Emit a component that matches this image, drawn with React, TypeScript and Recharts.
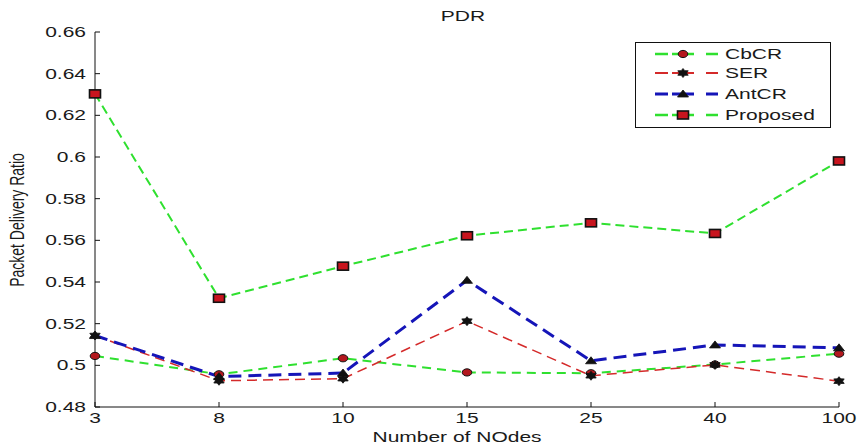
import React from 'react';
import { LineChart, Line, XAxis, YAxis, Legend } from 'recharts';

const categories = ['3', '8', '10', '15', '25', '40', '100'];
const cbcr = [0.5045, 0.4957, 0.5034, 0.4966, 0.4962, 0.5004, 0.5056];
const ser = [0.5143, 0.4926, 0.4936, 0.5212, 0.4950, 0.5002, 0.4924];
const antcr = [0.5143, 0.4946, 0.4963, 0.5408, 0.5022, 0.5098, 0.5084];
const proposed = [0.6303, 0.5322, 0.5476, 0.5622, 0.5684, 0.5633, 0.5981];
const yTicks = [0.48, 0.5, 0.52, 0.54, 0.56, 0.58, 0.6, 0.62, 0.64, 0.66];
const seriesNames = ['CbCR', 'SER', 'AntCR', 'Proposed'];
const title = 'PDR';
const xLabel = 'Number of NOdes';
const yLabel = 'Packet Delivery Ratio';

const data = categories.map((c, i) => ({
  cat: c,
  CbCR: cbcr[i],
  SER: ser[i],
  AntCR: antcr[i],
  Proposed: proposed[i],
}));

const FONT = '"Liberation Sans", Arial, sans-serif';
const SX = 1.5;
const W = 857;
const H = 446;
const M = { top: 32, right: 18, bottom: 9, left: 35 };
const YW = 60;
const XH = 30;
const PLOT_LEFT = M.left + YW;
const PLOT_RIGHT = W - M.right;
const PLOT_BOTTOM = H - M.bottom - XH;
const Y_TICK_MARGIN = 9;

const GREEN = '#2fe02f';
const RED = '#d42a2a';
const BLUE = '#1515b8';

type Kind = 'circle' | 'star' | 'tri' | 'square';

const seriesStyle: Record<string, { color: string; width: number; dash: string; kind: Kind }> = {
  CbCR: { color: GREEN, width: 2, dash: '9 6', kind: 'circle' },
  SER: { color: RED, width: 1.5, dash: '10 6', kind: 'star' },
  AntCR: { color: BLUE, width: 3, dash: '13 7', kind: 'tri' },
  Proposed: { color: GREEN, width: 2, dash: '9 5', kind: 'square' },
};

function starPath(cx: number, cy: number) {
  const pts: string[] = [];
  for (let k = 0; k < 12; k++) {
    const a = (Math.PI * k) / 6 - Math.PI / 2;
    const r = k % 2 === 0 ? 5 : 3;
    pts.push(`${(cx + r * Math.cos(a) * 1.2).toFixed(2)},${(cy + r * Math.sin(a) * 0.9).toFixed(2)}`);
  }
  return `M${pts.join('L')}Z`;
}

function Marker({ kind, cx, cy }: { kind: Kind; cx: number; cy: number }) {
  if (kind === 'circle') {
    return <ellipse cx={cx} cy={cy} rx={4.8} ry={3.6} fill="#b3181e" stroke="#111" strokeWidth={1} />;
  }
  if (kind === 'star') {
    return <path d={starPath(cx, cy)} fill="#111" stroke="#111" strokeWidth={0.8} />;
  }
  if (kind === 'tri') {
    return (
      <polygon
        points={`${cx - 5.5},${cy + 3} ${cx + 5.5},${cy + 3} ${cx},${cy - 4}`}
        fill="#111"
        stroke="#111"
        strokeWidth={0.8}
      />
    );
  }
  return <rect x={cx - 5.5} y={cy - 4} width={11} height={8} fill="#c8141e" stroke="#111" strokeWidth={1.6} />;
}

const makeDot = (kind: Kind) => (props: any) => {
  const { cx, cy, index } = props;
  if (cx == null || cy == null) return <g key={`d-${index}`} />;
  return (
    <g key={`d-${kind}-${index}`}>
      <Marker kind={kind} cx={cx} cy={cy} />
    </g>
  );
};

const StretchText = ({ x, y, anchor, children, size = 14 }: any) => (
  <text
    transform={`translate(${x},${y}) scale(${SX},1)`}
    textAnchor={anchor}
    fontFamily={FONT}
    fontSize={size}
    fill="#1a1a1a"
  >
    {children}
  </text>
);

const YTick = (props: any) => {
  const { x, y, payload } = props;
  const ax = x + Y_TICK_MARGIN;
  return (
    <g>
      <line x1={ax} x2={ax + 5} y1={y} y2={y} stroke="#111" strokeWidth={1} />
      <StretchText x={x} y={y + 5} anchor="end">
        {String(payload.value)}
      </StretchText>
    </g>
  );
};

const XTick = (props: any) => {
  const { x, y, payload } = props;
  return (
    <g>
      <line x1={x} x2={x} y1={PLOT_BOTTOM} y2={PLOT_BOTTOM - 5} stroke="#111" strokeWidth={1} />
      <StretchText x={x} y={y + 16} anchor="middle">
        {payload.value}
      </StretchText>
    </g>
  );
};

const LegendBox = () => {
  const rowY = [12, 31, 52, 73];
  return (
    <svg width={196} height={86} style={{ display: 'block' }}>
      <rect x={0.5} y={0.5} width={195} height={85} fill="#fff" stroke="#111" strokeWidth={1} />
      {seriesNames.map((n, i) => {
        const s = seriesStyle[n];
        const y = rowY[i];
        return (
          <g key={n}>
            <line
              x1={20}
              x2={83}
              y1={y}
              y2={y}
              stroke={s.color}
              strokeWidth={Math.min(s.width + 0.5, 3)}
              strokeDasharray="13 4 22 12 13"
            />
            <Marker kind={s.kind} cx={48} cy={y} />
            <StretchText x={90} y={y + 5} anchor="start">
              {n}
            </StretchText>
          </g>
        );
      })}
    </svg>
  );
};

export default function App() {
  return (
    <div style={{ position: 'absolute', left: 0, top: 0, width: W, height: H, background: '#fff' }}>
      <LineChart width={W} height={H} data={data} margin={M}>
        <XAxis
          dataKey="cat"
          type="category"
          height={XH}
          axisLine={{ stroke: '#111', strokeWidth: 1 }}
          tickLine={false}
          tickSize={0}
          tickMargin={0}
          tick={XTick}
          interval={0}
        />
        <YAxis
          type="number"
          width={YW}
          domain={[0.48, 0.66]}
          ticks={yTicks}
          axisLine={{ stroke: '#111', strokeWidth: 1 }}
          tickLine={false}
          tickSize={0}
          tickMargin={Y_TICK_MARGIN}
          tick={YTick}
          interval={0}
          allowDataOverflow
        />
        <Legend
          layout="horizontal"
          verticalAlign="middle"
          align="center"
          content={() => <LegendBox />}
          wrapperStyle={{ position: 'absolute', left: 635, top: 42, width: 196, height: 86 }}
        />
        {seriesNames.map((n) => {
          const s = seriesStyle[n];
          return (
            <Line
              key={n}
              dataKey={n}
              type="linear"
              stroke={s.color}
              strokeWidth={s.width}
              strokeDasharray={s.dash}
              dot={makeDot(s.kind)}
              activeDot={false}
              isAnimationActive={false}
              legendType="none"
            />
          );
        })}
      </LineChart>
      <svg
        width={W}
        height={H}
        style={{ position: 'absolute', left: 0, top: 0, pointerEvents: 'none' }}
      >
        <StretchText x={(PLOT_LEFT + PLOT_RIGHT) / 2 - 4} y={21} anchor="middle">
          {title}
        </StretchText>
        <StretchText x={(PLOT_LEFT + PLOT_RIGHT) / 2 - 10} y={442} anchor="middle">
          {xLabel}
        </StretchText>
        <text
          transform={`translate(24,220) scale(${SX},1) rotate(-90)`}
          textAnchor="middle"
          fontFamily={FONT}
          fontSize={14}
          fill="#1a1a1a"
        >
          {yLabel}
        </text>
      </svg>
    </div>
  );
}
